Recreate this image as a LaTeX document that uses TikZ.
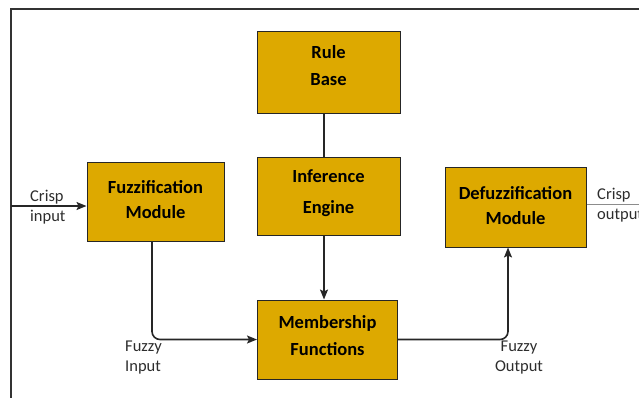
\documentclass[tikz,border=0pt]{standalone}
\usepackage{fontspec}
\setmainfont{Carlito}
\usetikzlibrary{arrows.meta}
\definecolor{boxfill}{RGB}{221,169,0}
\definecolor{lbl}{RGB}{45,45,45}
\tikzset{
  blk/.style={draw=black!85, line width=1pt, fill=boxfill, align=center, inner sep=0pt,
    font=\fontsize{18.5}{25}\selectfont\bfseries},
  conn/.style={line width=1.6pt, draw=black!85, -{Stealth[length=10pt,width=8pt,inset=2pt]}},
  plain/.style={line width=1.6pt, draw=black!85},
  lab/.style={text=lbl, font=\fontsize{16.5}{20}\selectfont, inner sep=0pt},
  frame/.style={line width=1.8pt, draw=black!80}
}
\begin{document}
\begin{tikzpicture}[x=1pt,y=-1pt]
\useasboundingbox (0,0) rectangle (639,397);
\draw[frame] (11,398) -- (11,9) -- (640,9);
\node[blk, minimum width=143pt, minimum height=82pt, text depth=12pt] (rule) at (328.5,72) {Rule\\[2pt]Base};
\node[blk, minimum width=143pt, minimum height=78pt, text depth=8pt] (inf) at (328.5,196) {Inference\\[6pt]Engine};
\node[blk, minimum width=137pt, minimum height=79pt, text depth=4pt] (fuzz) at (155.5,201.5) {Fuzzification\\Module};
\node[blk, minimum width=140pt, minimum height=79pt, text depth=8pt] (mem) at (327.5,339.5) {Membership\\[2pt]Functions};
\node[blk, minimum width=141pt, minimum height=80pt, text depth=3pt] (defuzz) at (515.5,207) {Defuzzification\\Module};
\coordinate (cin) at (11,206);
\coordinate (cout) at (640,204);
\draw[plain] ([xshift=-4.5pt]rule.south) -- ([xshift=-4.5pt]inf.north);
\draw[conn] ([xshift=-4.5pt]inf.south) -- ([xshift=-3.5pt]mem.north);
\draw[conn] (cin) -- (fuzz.west |- cin);
\draw[conn, rounded corners=8pt] ([xshift=-3.5pt]fuzz.south) |- (mem.west);
\draw[conn, rounded corners=8pt] (mem.east) -| ([xshift=-7.5pt]defuzz.south);
\draw[line width=1pt, draw=black!45] (defuzz.east |- cout) -- (cout);
\node[lab, align=left, anchor=west] (lci) at (30,207) {Crisp\\input};
\node[lab, align=left, anchor=west] (lfi) at (125,358) {Fuzzy\\Input};
\node[lab, align=center] (lfo) at (519,358) {Fuzzy\\Output};
\node[lab, align=left, anchor=west] (lco) at (597,205) {Crisp\\output};
\end{tikzpicture}
\end{document}
